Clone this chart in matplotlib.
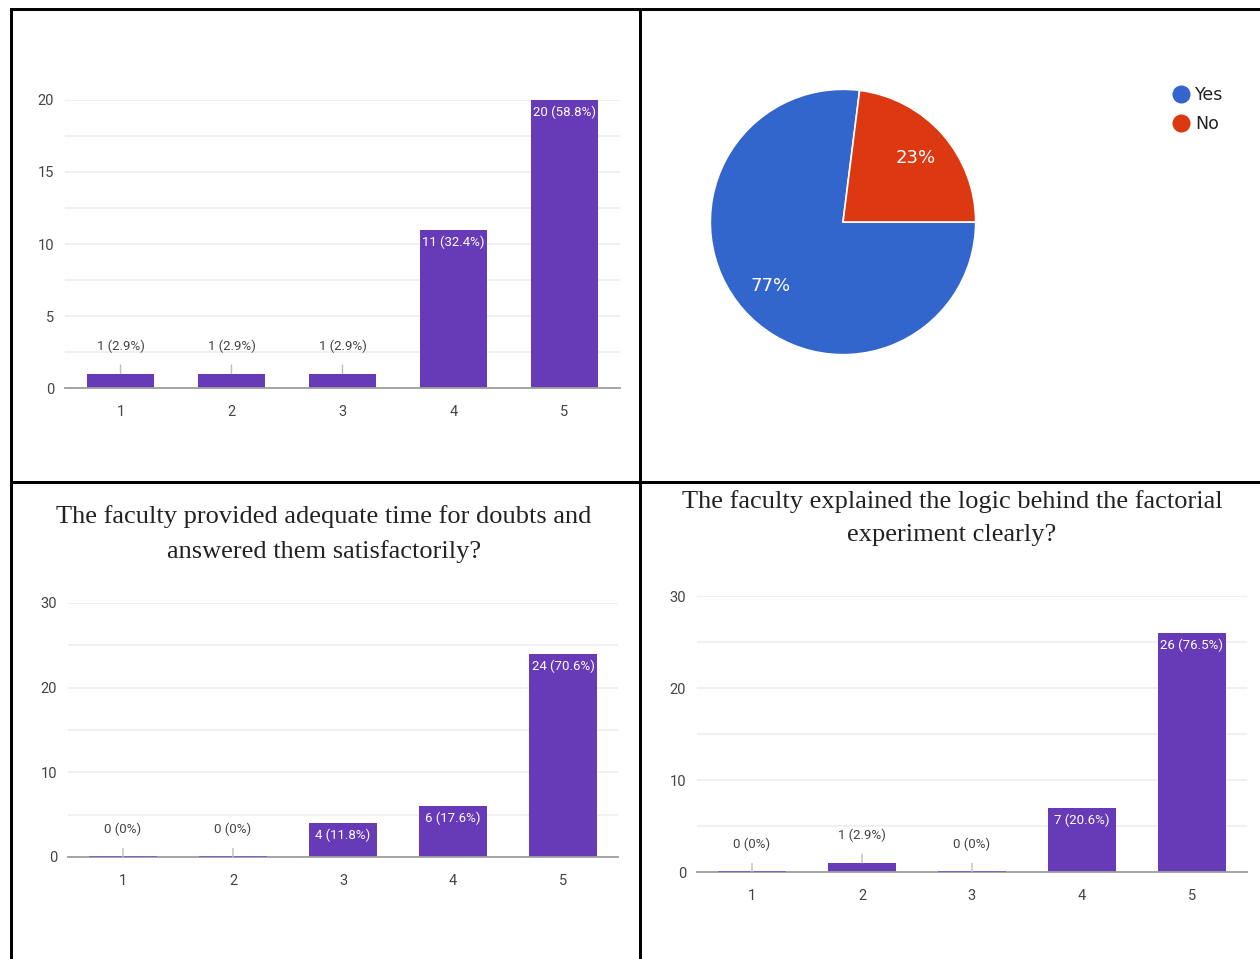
import matplotlib.pyplot as plt
from matplotlib.lines import Line2D


W, H = 1260, 959

ratings = ["1", "2", "3", "4", "5"]

# top left: first question (no title visible in the picture)
q1_counts = [1, 1, 1, 11, 20]
q1_pcts = ["2.9%", "2.9%", "2.9%", "32.4%", "58.8%"]

# top right: yes / no pie
pie_labels = ["Yes", "No"]
pie_values = [77, 23]

# bottom left
q3_title = "The faculty provided adequate time for doubts and\nanswered them satisfactorily?"
q3_counts = [0, 0, 4, 6, 24]
q3_pcts = ["0%", "0%", "11.8%", "17.6%", "70.6%"]

# bottom right
q4_title = "The faculty explained the logic behind the factorial\nexperiment clearly?"
q4_counts = [0, 1, 0, 7, 26]
q4_pcts = ["0%", "2.9%", "0%", "20.6%", "76.5%"]

BAR_COLOR = "#673AB7"
GRID_COLOR = "#EEEEEE"
AXIS_COLOR = "#9E9E9E"
TEXT_COLOR = "#444444"
NARROW = ["Roboto", "DejaVu Sans"]
SERIF = ["Liberation Serif", "DejaVu Serif"]


def px_box(left, top, right, bottom):
    # pixel box -> figure fraction [x, y, w, h]
    return [left / W, 1 - bottom / H, (right - left) / W, (bottom - top) / H]


def bar_panel(fig, box, counts, pcts, ymax, major, minor_ticks):
    ax = fig.add_axes(px_box(*box))
    x = list(range(1, len(counts) + 1))
    bars = ax.bar(x, counts, width=0.61, color=BAR_COLOR, zorder=3)
    # zero bars still show as a thin purple stroke on the baseline
    for xi, c in zip(x, counts):
        if c == 0:
            ax.plot([xi - 0.305, xi + 0.305], [0, 0], color="#7E57C2", lw=1.2,
                    zorder=5, solid_capstyle="butt")

    ax.set_xlim(0.5, len(counts) + 0.5)
    ax.set_ylim(0, ymax)
    ax.set_yticks(range(0, ymax + 1, major))
    ax.set_yticks(minor_ticks, minor=True)
    ax.set_xticks(x)
    ax.set_xticklabels(ratings)

    ax.grid(axis="y", which="both", color=GRID_COLOR, linewidth=1.2, zorder=0)
    for side in ["top", "right", "left"]:
        ax.spines[side].set_visible(False)
    ax.spines["bottom"].set_color(AXIS_COLOR)
    ax.spines["bottom"].set_linewidth(1.3)
    ax.spines["bottom"].set_zorder(4)

    ax.tick_params(axis="both", which="both", length=0, colors=TEXT_COLOR, labelsize=10.5)
    ax.tick_params(axis="y", pad=8)
    ax.tick_params(axis="x", pad=12)
    for lab in ax.get_xticklabels() + ax.get_yticklabels():
        lab.set_family(NARROW)

    for b, c, p in zip(bars, counts, pcts):
        txt = f"{c} ({p})"
        cx = b.get_x() + b.get_width() / 2
        if c / ymax > 0.1:
            ax.annotate(txt, (cx, c), xytext=(0, -9), textcoords="offset points",
                        ha="center", va="center", color="white", fontsize=9.5,
                        family=NARROW, zorder=5)
        else:
            ax.annotate(txt, (cx, c), xytext=(0, 20), textcoords="offset points",
                        ha="center", va="center", color=TEXT_COLOR, fontsize=9.5,
                        family=NARROW, zorder=5,
                        arrowprops=dict(arrowstyle="-", color="#BDBDBD", lw=1,
                                        shrinkA=7, shrinkB=0))
    return ax


fig = plt.figure(figsize=(W / 100, H / 100), dpi=100)

bar_panel(fig, (65, 100, 620, 388), q1_counts, q1_pcts, 20, 5, [2.5, 7.5, 12.5, 17.5])
bar_panel(fig, (68, 603, 618, 857), q3_counts, q3_pcts, 30, 10, [5, 15, 25])
bar_panel(fig, (697, 596, 1247, 872), q4_counts, q4_pcts, 30, 10, [5, 15, 25])

fig.text(324 / W, 1 - 534 / H, q3_title, ha="center", va="center", fontsize=19,
         family=SERIF, color="#222222", linespacing=1.65)
fig.text(952 / W, 1 - 518 / H, q4_title, ha="center", va="center", fontsize=19,
         family=SERIF, color="#222222", linespacing=1.65)

# pie
ax_pie = fig.add_axes(px_box(709, 88, 977, 356))
wedges, _, autotexts = ax_pie.pie(
    pie_values,
    colors=["#3366CC", "#DC3912"],
    startangle=0,
    counterclock=False,
    autopct="%d%%",
    pctdistance=0.73,
    wedgeprops=dict(edgecolor="white", linewidth=1.2),
)
for t in autotexts:
    t.set_color("white")
    t.set_fontsize(13)
ax_pie.set_xlim(-1.01, 1.01)
ax_pie.set_ylim(-1.01, 1.01)
ax_pie.set_aspect("equal")

handles = [Line2D([], [], marker="o", linestyle="none", markersize=13,
                  markerfacecolor=w.get_facecolor(), markeredgecolor="none")
           for w in wedges]
fig.legend(handles, pie_labels, loc="upper left",
           bbox_to_anchor=(1162 / W, 1 - 77 / H), frameon=False,
           fontsize=12.5, labelcolor="#222222", handletextpad=0.2,
           labelspacing=0.65, handlelength=1.2, borderpad=0)

# table borders
lw = 3 * 72 / 100
border = dict(color="black", linewidth=lw, transform=fig.transFigure, solid_capstyle="projecting")
fig.add_artist(Line2D([10.5 / W, 1], [1 - 8.5 / H, 1 - 8.5 / H], **border))
fig.add_artist(Line2D([10.5 / W, 10.5 / W], [0, 1 - 8.5 / H], **border))
fig.add_artist(Line2D([639.5 / W, 639.5 / W], [0, 1 - 8.5 / H], **border))
fig.add_artist(Line2D([10.5 / W, 1], [1 - 481.5 / H, 1 - 481.5 / H], **border))

fig.savefig("out.png", dpi=100)
